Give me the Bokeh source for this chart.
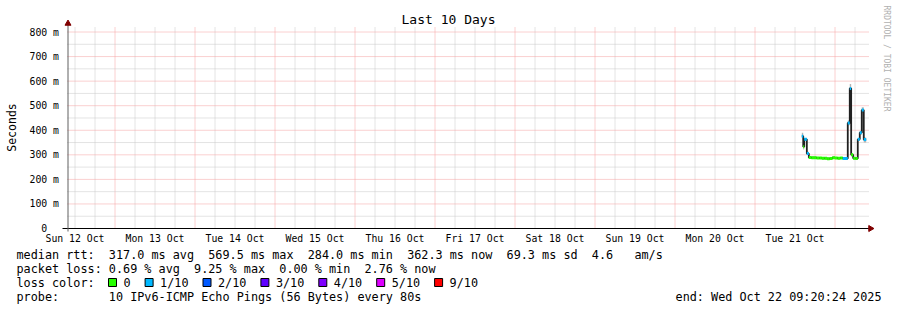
import math
from bokeh.plotting import figure
from bokeh.models import Range1d
from bokeh.core.properties import value
from bokeh.embed import file_html
from bokeh.resources import INLINE

# ---------------- data ----------------
title_text = "Last 10 Days"
y_label = "Seconds"
# x in hours since Sun 12 Oct 00:00 (10-day window)
t_start = 9.75
t_end = 249.75
day_ticks = [12, 36, 60, 84, 108, 132, 156, 180, 204, 228]
day_labels = ["Sun 12 Oct", "Mon 13 Oct", "Tue 14 Oct", "Wed 15 Oct", "Thu 16 Oct",
              "Fri 17 Oct", "Sat 18 Oct", "Sun 19 Oct", "Mon 20 Oct", "Tue 21 Oct"]
y_ticks = [0, 0.1, 0.2, 0.3, 0.4, 0.5, 0.6, 0.7, 0.8]
y_tick_labels = ["0  ", "100 m", "200 m", "300 m", "400 m", "500 m",
                 "600 m", "700 m", "800 m"]

seg_start = [230.05, 230.47, 230.77, 231.55, 232.15, 232.93, 233.71, 234.49, 235.29,
             236.07, 236.85, 237.63, 238.41, 239.19, 240.00, 240.78, 241.56, 242.33,
             243.83, 244.43, 244.85, 245.45, 246.14, 246.83, 247.43, 248.03, 248.63]
last_end = 249.35
median = [0.376, 0.333, 0.363, 0.305, 0.289, 0.288, 0.288, 0.287, 0.287,
          0.286, 0.286, 0.284, 0.285, 0.288, 0.287, 0.286, 0.287, 0.285,
          0.430, 0.570, 0.300, 0.286, 0.285, 0.363, 0.390, 0.482, 0.362]
loss = [1, 0, 1, 1, 0, 0, 0, 0, 0,
        0, 0, 0, 0, 0, 0, 0, 0, 1,
        1, 1, 0, 0, 0, 1, 1, 1, 1]
smoke_lo = [0.368, 0.322, 0.356, 0.300, 0.287, 0.286, 0.286, 0.285, 0.285,
            0.284, 0.284, 0.282, 0.283, 0.286, 0.285, 0.284, 0.285, 0.282,
            0.420, 0.560, 0.294, 0.284, 0.283, 0.356, 0.382, 0.472, 0.350]
smoke_hi = [0.390, 0.340, 0.368, 0.312, 0.291, 0.290, 0.290, 0.289, 0.289,
            0.288, 0.288, 0.286, 0.287, 0.290, 0.289, 0.288, 0.289, 0.290,
            0.440, 0.588, 0.306, 0.288, 0.287, 0.368, 0.396, 0.494, 0.370]

loss_levels = ["0", "1/10", "2/10", "3/10", "4/10", "5/10", "9/10"]
loss_counts = [0, 1, 2, 3, 4, 5, 9]
loss_colors = ["#26ff00", "#00b8ff", "#0059ff", "#5e00ff", "#7e00ff", "#dd00ff", "#ff0000"]

line_rtt = "median rtt:  317.0 ms avg  569.5 ms max  284.0 ms min  362.3 ms now  69.3 ms sd  4.6   am/s"
line_loss = "packet loss: 0.69 % avg  9.25 % max  0.00 % min  2.76 % now"
line_color_lbl = "loss color:"
line_probe = "probe:       10 IPv6-ICMP Echo Pings (56 Bytes) every 80s"
line_end = "end: Wed Oct 22 09:20:24 2025"
credit = "RRDTOOL / TOBI OETIKER"

# ---------------- layout ----------------
W, H = 897, 310
FL, FR, FT, FB = 67, 867, 26, 228   # plot area edges in canvas pixels
y_top = 0.8 * (FB - FT) / (FB - 31.5)
kx = (t_end - t_start) / (FR - FL)   # hours per pixel
ky = y_top / (FB - FT)               # seconds per pixel
MONO = value("DejaVu Sans Mono")

def X(px):
    return t_start + (px - FL) * kx

def Y(py):
    return (FB - py) * ky

def nb(s):
    return s.replace(" ", "\u00a0")

p = figure(width=W, height=H, output_backend="svg", toolbar_location=None,
           x_range=Range1d(X(0), X(W)), y_range=Range1d(Y(H), Y(0)),
           x_axis_type=None, y_axis_type=None, min_border=0)
p.outline_line_color = None
p.background_fill_color = "white"
p.border_fill_color = "white"
p.grid.visible = False

# grids
minor_x = [h for h in range(6, 252, 6) if h % 24 != 0 and t_start < h < t_end]
major_x = [h for h in range(24, 252, 24) if t_start < h < t_end]
minor_y = [0.05, 0.15, 0.25, 0.35, 0.45, 0.55, 0.65, 0.75]
major_y = y_ticks[1:]
for xs, col in [(minor_x, "#c8c8c8"), (major_x, "#f5a0a0")]:
    p.segment(x0=xs, x1=xs, y0=[0] * len(xs), y1=[y_top] * len(xs),
              line_color=col, line_dash="1 1", line_width=1)
for ys, col in [(minor_y, "#c8c8c8"), (major_y, "#f5a0a0")]:
    p.segment(x0=[t_start] * len(ys), x1=[t_end + kx] * len(ys), y0=ys, y1=ys,
              line_color=col, line_dash="1 1", line_width=1)

# tick labels
p.text(x=[X(58.5)] * len(y_ticks), y=y_ticks, text=[nb(s) for s in y_tick_labels],
       text_font=MONO, text_font_size=value("9.8px"), text_color="black",
       text_align="right", text_baseline="middle")
p.text(x=day_ticks, y=[Y(238)] * len(day_ticks), text=[nb(s) for s in day_labels],
       text_font=MONO, text_font_size=value("9.8px"), text_color="black",
       text_align="center", text_baseline="middle")

# data
seg_end = seg_start[1:] + [last_end]
colors = [loss_colors[loss_counts.index(l)] for l in loss]
p.quad(left=seg_start, right=seg_end, bottom=smoke_lo, top=smoke_hi,
       fill_color="#b4b4b4", line_color=None)
p.step(x=seg_start + [last_end], y=median + [median[-1]], mode="after",
       line_color="#202020", line_width=1.8)
p.segment(x0=seg_start, x1=seg_end, y0=median, y1=median, line_color=colors, line_width=3)

# axis lines and arrows
p.segment(x0=[X(62)], x1=[X(870)], y0=[0], y1=[0], line_color="black", line_width=1)
p.segment(x0=[X(67.5)], x1=[X(67.5)], y0=[Y(231)], y1=[Y(23)], line_color="#606060", line_width=1)
p.scatter(x=[X(67.5)], y=[Y(23)], marker="triangle", size=6,
          fill_color="#800000", line_color="#800000")
p.scatter(x=[X(870)], y=[0], marker="triangle", size=6, angle=-math.pi / 2,
          fill_color="#800000", line_color="#800000")

def lab(text, px, py, size, color="black", align="left", angle=0.0):
    p.text(x=[X(px)], y=[Y(py)], text=[nb(text)], text_font=MONO,
           text_font_size=value(size), text_color=color, text_align=align,
           text_baseline="middle", angle=angle)

lab(title_text, 448, 19, "13px", align="center")
lab(y_label, 11, 127, "11.5px", align="center", angle=math.pi / 2)
lab(credit, 886, 5, "8px", color="#b0b0b0", align="left", angle=-math.pi / 2)

TS = "11.8px"
lab(line_rtt, 16, 254, TS)
lab(line_loss, 16, 268, TS)
lab(line_color_lbl, 16, 282, TS)
lab(line_probe, 16, 296, TS)
lab(line_end, 881, 296, TS, align="right")

bx = 108.0
for name, col in zip(loss_levels, loss_colors):
    p.quad(left=[X(bx)], right=[X(bx + 8)], bottom=[Y(286)], top=[Y(278)],
           fill_color=col, line_color="black", line_width=1)
    lab(name, bx + 15, 282, TS)
    bx = bx + 15 + len(name) * 7.1 + 14.5

open("out.html", "w").write(file_html(p, INLINE))
